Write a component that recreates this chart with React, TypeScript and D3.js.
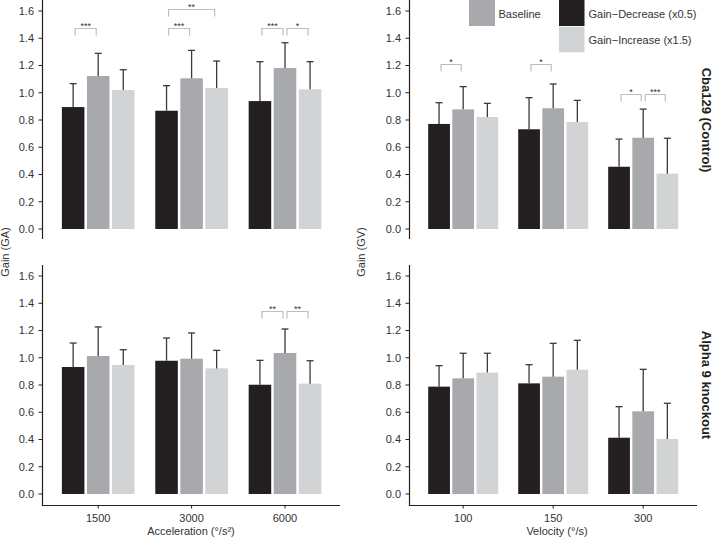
import React from "react";
import * as d3 from "d3";

// ---------- data ----------
const accelCategories = ["1500", "3000", "6000"];
const velocityCategories = ["100", "150", "300"];
const seriesKeys = ["decrease", "baseline", "increase"];
const legendLabels = { baseline: "Baseline", decrease: "Gain−Decrease (x0.5)", increase: "Gain−Increase (x1.5)" };
const yTicks = [0, 0.2, 0.4, 0.6, 0.8, 1.0, 1.2, 1.4, 1.6];

// Cba129 (Control) – acceleration (GA)
const ctrlAccelDecrease = [0.895, 0.868, 0.939];
const ctrlAccelDecreaseErr = [0.172, 0.184, 0.289];
const ctrlAccelBaseline = [1.123, 1.106, 1.182];
const ctrlAccelBaselineErr = [0.166, 0.205, 0.185];
const ctrlAccelIncrease = [1.02, 1.035, 1.025];
const ctrlAccelIncreaseErr = [0.149, 0.198, 0.203];

// Cba129 (Control) – velocity (GV)
const ctrlVelDecrease = [0.771, 0.732, 0.457];
const ctrlVelDecreaseErr = [0.156, 0.232, 0.203];
const ctrlVelBaseline = [0.878, 0.886, 0.67];
const ctrlVelBaselineErr = [0.167, 0.178, 0.21];
const ctrlVelIncrease = [0.822, 0.785, 0.406];
const ctrlVelIncreaseErr = [0.1, 0.159, 0.26];

// Alpha 9 knockout – acceleration (GA)
const koAccelDecrease = [0.932, 0.978, 0.802];
const koAccelDecreaseErr = [0.176, 0.167, 0.179];
const koAccelBaseline = [1.013, 0.993, 1.035];
const koAccelBaselineErr = [0.213, 0.189, 0.176];
const koAccelIncrease = [0.947, 0.922, 0.81];
const koAccelIncreaseErr = [0.112, 0.132, 0.168];

// Alpha 9 knockout – velocity (GV)
const koVelDecrease = [0.788, 0.812, 0.413];
const koVelDecreaseErr = [0.154, 0.137, 0.228];
const koVelBaseline = [0.849, 0.861, 0.607];
const koVelBaselineErr = [0.184, 0.245, 0.308];
const koVelIncrease = [0.891, 0.912, 0.404];
const koVelIncreaseErr = [0.142, 0.216, 0.262];

// significance brackets: category, from-series, to-series, height (gain units), label
const ctrlAccelSig = [
  { cat: "1500", a: 0, b: 1, y: 1.477, label: "***" },
  { cat: "3000", a: 0, b: 1, y: 1.477, label: "***" },
  { cat: "3000", a: 0, b: 2, y: 1.612, label: "**" },
  { cat: "6000", a: 0, b: 1, y: 1.477, label: "***" },
  { cat: "6000", a: 1, b: 2, y: 1.477, label: "*" },
];
const ctrlVelSig = [
  { cat: "100", a: 0, b: 1, y: 1.211, label: "*" },
  { cat: "150", a: 0, b: 1, y: 1.211, label: "*" },
  { cat: "300", a: 0, b: 1, y: 0.99, label: "*" },
  { cat: "300", a: 1, b: 2, y: 0.99, label: "***" },
];
const koAccelSig = [
  { cat: "6000", a: 0, b: 1, y: 1.343, label: "**" },
  { cat: "6000", a: 1, b: 2, y: 1.343, label: "**" },
];
const koVelSig: { cat: string; a: number; b: number; y: number; label: string }[] = [];

// ---------- build tables ----------
function table(cats: string[], vals: number[][], errs: number[][]) {
  return cats.map((c, i) => ({
    cat: c,
    values: seriesKeys.map((k, s) => ({ key: k, value: vals[s][i], err: errs[s][i] })),
  }));
}

const colors: Record<string, string> = { decrease: "#231f20", baseline: "#a7a9ac", increase: "#d1d3d4" };
const FONT = "'Liberation Sans', Arial, Helvetica, sans-serif";
const TXT = "#333333";

const panels = [
  {
    id: "ca", cats: accelCategories, sig: ctrlAccelSig,
    rows: table(accelCategories, [ctrlAccelDecrease, ctrlAccelBaseline, ctrlAccelIncrease], [ctrlAccelDecreaseErr, ctrlAccelBaselineErr, ctrlAccelIncreaseErr]),
    axisX: 42.5, xr: [51.5, 331.7], yZero: 229, axisTop: 0, axisBottom: 239, xAxis: false, xEnd: 340,
  },
  {
    id: "cv", cats: velocityCategories, sig: ctrlVelSig,
    rows: table(velocityCategories, [ctrlVelDecrease, ctrlVelBaseline, ctrlVelIncrease], [ctrlVelDecreaseErr, ctrlVelBaselineErr, ctrlVelIncreaseErr]),
    axisX: 409.5, xr: [418.2, 688.2], yZero: 229, axisTop: 0, axisBottom: 239, xAxis: false, xEnd: 697,
  },
  {
    id: "ka", cats: accelCategories, sig: koAccelSig,
    rows: table(accelCategories, [koAccelDecrease, koAccelBaseline, koAccelIncrease], [koAccelDecreaseErr, koAccelBaselineErr, koAccelIncreaseErr]),
    axisX: 42.5, xr: [51.5, 331.7], yZero: 494, axisTop: 265, axisBottom: 505.5, xAxis: true, xEnd: 340,
  },
  {
    id: "kv", cats: velocityCategories, sig: koVelSig,
    rows: table(velocityCategories, [koVelDecrease, koVelBaseline, koVelIncrease], [koVelDecreaseErr, koVelBaselineErr, koVelIncreaseErr]),
    axisX: 409.5, xr: [418.2, 688.2], yZero: 494, axisTop: 265, axisBottom: 505.5, xAxis: true, xEnd: 697,
  },
];

function Panel({ p }: { p: (typeof panels)[number] }) {
  const y = d3.scaleLinear().domain([0, 1.6]).range([p.yZero, p.yZero - 218]);
  const x0 = d3.scaleBand<string>().domain(p.cats).range(p.xr as [number, number]).paddingInner(0.222).paddingOuter(0.111);
  const x1 = d3.scaleBand<string>().domain(seriesKeys).range([0, x0.bandwidth()]).paddingInner(0.1);
  const cx = (cat: string, s: number) => (x0(cat) ?? 0) + (x1(seriesKeys[s]) ?? 0) + x1.bandwidth() / 2;
  return (
    <g>
      {/* bars */}
      {p.rows.map((r) => (
        <g key={r.cat} transform={`translate(${x0(r.cat)},0)`}>
          {r.values.map((v) => (
            <rect key={v.key} x={x1(v.key)} y={y(v.value)} width={x1.bandwidth()} height={y(0) - y(v.value)} fill={colors[v.key]} />
          ))}
          {r.values.map((v) => {
            const c = (x1(v.key) ?? 0) + x1.bandwidth() / 2;
            return (
              <g key={v.key + "e"} stroke="#3a3a3a" strokeWidth={1.3}>
                <line x1={c} x2={c} y1={y(v.value)} y2={y(v.value + v.err)} />
                <line x1={c - 3.5} x2={c + 3.5} y1={y(v.value + v.err)} y2={y(v.value + v.err)} />
              </g>
            );
          })}
        </g>
      ))}
      {/* significance brackets */}
      {p.sig.map((s, i) => {
        const xa = cx(s.cat, s.a) + 2;
        const xb = cx(s.cat, s.b) - 2;
        const yy = Math.round(y(s.y)) + 0.5;
        return (
          <g key={i}>
            <path d={`M${xa},${yy + 7}V${yy}H${xb}V${yy + 7}`} fill="none" stroke="#bcbec0" strokeWidth={1.2} />
            <text x={(xa + xb) / 2} y={yy + 0.5} textAnchor="middle" fontSize={9} fill={TXT} fontFamily={FONT}>{s.label}</text>
          </g>
        );
      })}
      {/* y axis */}
      <line x1={p.axisX} x2={p.axisX} y1={p.axisTop} y2={p.axisBottom} stroke="#231f20" strokeWidth={1.2} />
      {yTicks.map((t) => (
        <g key={t}>
          <line x1={p.axisX - 4} x2={p.axisX} y1={y(t)} y2={y(t)} stroke="#231f20" strokeWidth={1} />
          <text x={p.axisX - 8.5} y={y(t)} dy="0.35em" textAnchor="end" fontSize={11} fill={TXT} fontFamily={FONT}>{t.toFixed(1)}</text>
        </g>
      ))}
      {/* x axis */}
      {p.xAxis && (
        <g>
          <line x1={p.axisX - 0.6} x2={p.xEnd} y1={p.axisBottom} y2={p.axisBottom} stroke="#231f20" strokeWidth={1.2} />
          {p.cats.map((c) => {
            const xc = (x0(c) ?? 0) + x0.bandwidth() / 2;
            return (
              <g key={c}>
                <line x1={xc} x2={xc} y1={p.axisBottom} y2={p.axisBottom + 3} stroke="#231f20" />
                <text x={xc} y={521.5} textAnchor="middle" fontSize={11} fill={TXT} fontFamily={FONT}>{c}</text>
              </g>
            );
          })}
        </g>
      )}
    </g>
  );
}

export default function App() {
  return (
    <svg width={715} height={538} style={{ position: "absolute", left: 0, top: 0, background: "#fff" }} fontFamily={FONT}>
      <rect width={715} height={538} fill="#fff" />
      {panels.map((p) => (
        <Panel key={p.id} p={p} />
      ))}
      {/* axis titles */}
      <text transform="translate(9,252) rotate(-90)" textAnchor="middle" fontSize={11} fill={TXT}>Gain (GA)</text>
      <text transform="translate(365,252) rotate(-90)" textAnchor="middle" fontSize={11} fill={TXT}>Gain (GV)</text>
      <text x={191} y={535} textAnchor="middle" fontSize={11} fill={TXT}>Acceleration (°/s²)</text>
      <text x={557} y={535} textAnchor="middle" fontSize={11} fill={TXT}>Velocity (°/s)</text>
      {/* strip labels */}
      <text transform="translate(702,120) rotate(90)" textAnchor="middle" fontSize={13} fontWeight="bold" fill="#231f20">Cba129 (Control)</text>
      <text transform="translate(702,385) rotate(90)" textAnchor="middle" fontSize={13} fontWeight="bold" fill="#231f20">Alpha 9 knockout</text>
      {/* legend */}
      <rect x={469} y={0} width={26} height={26} fill={colors.baseline} />
      <text x={498.5} y={14.3} dy="0.35em" fontSize={11} fill={TXT}>{legendLabels.baseline}</text>
      <rect x={559} y={0} width={25.5} height={26} fill={colors.decrease} />
      <text x={588.5} y={14.3} dy="0.35em" fontSize={11} fill={TXT}>{legendLabels.decrease}</text>
      <rect x={559} y={26.7} width={25.5} height={25.6} fill={colors.increase} />
      <text x={588.5} y={40} dy="0.35em" fontSize={11} fill={TXT}>{legendLabels.increase}</text>
    </svg>
  );
}
